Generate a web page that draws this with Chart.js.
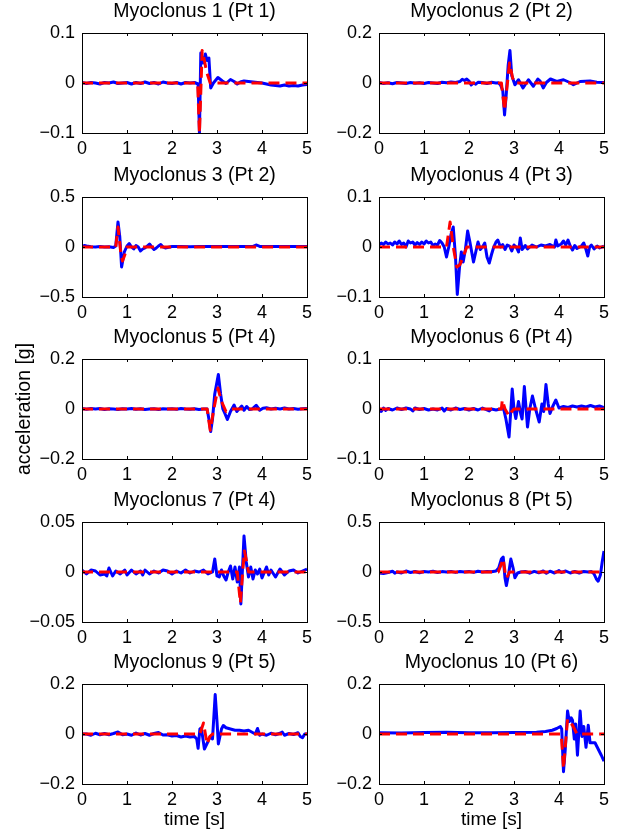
<!DOCTYPE html>
<html>
<head>
<meta charset="utf-8">
<script src="https://cdn.jsdelivr.net/npm/chart.js@4.4.1/dist/chart.umd.min.js"></script>
<style>
  body { margin: 0; background: #fff; }
  #fig { position: relative; width: 621px; height: 836px; overflow: hidden; }
  #fig canvas { position: absolute; }
</style>
</head>
<body>
<div id="fig"></div>
<script>
// ---- data (time in s, acceleration in g) ----
const titles = ['Myoclonus 1 (Pt 1)', 'Myoclonus 2 (Pt 2)', 'Myoclonus 3 (Pt 2)', 'Myoclonus 4 (Pt 3)',
  'Myoclonus 5 (Pt 4)', 'Myoclonus 6 (Pt 4)', 'Myoclonus 7 (Pt 4)', 'Myoclonus 8 (Pt 5)',
  'Myoclonus 9 (Pt 5)', 'Myoclonus 10 (Pt 6)'];

const xTicks = [0, 1, 2, 3, 4, 5];
const xTickText = ['0', '1', '2', '3', '4', '5'];
const xTickText8 = ['0', '2', '2', '3', '4', '5'];

const yTicks01 = [-0.1, 0, 0.1];
const yText01 = ['\u22120.1', '0', '0.1'];
const yTicks02 = [-0.2, 0, 0.2];
const yText02 = ['\u22120.2', '0', '0.2'];
const yTicks05 = [-0.5, 0, 0.5];
const yText05 = ['\u22120.5', '0', '0.5'];
const yTicks005 = [-0.05, 0, 0.05];
const yText005 = ['\u22120.05', '0', '0.05'];

// panel 1
const t1 = [0,0.1,0.2,0.3,0.4,0.5,0.6,0.7,0.8,0.9,1.0,1.1,1.2,1.3,1.4,1.5,1.6,1.7,1.8,1.9,2.0,2.1,2.2,2.3,2.4,2.5,2.58,2.61,2.64,2.69,2.74,2.78,2.82,2.86,2.92,3.02,3.12,3.2,3.3,3.38,3.45,3.52,3.6,3.7,3.8,3.9,4.0,4.1,4.2,4.3,4.4,4.5,4.6,4.7,4.8,4.9,5.0];
const blue1 = [0.001,-0.001,0.001,0,-0.002,0.001,0,0.002,-0.001,0,0.001,-0.002,0.001,-0.001,0.002,-0.001,0.001,-0.002,0.002,0,-0.001,0.001,-0.002,0.001,0,0.001,-0.002,-0.1,0.06,0.04,0.058,0.045,0.05,-0.01,0.0,0.011,0.004,-0.001,0.007,0.003,-0.002,0.002,0.004,0.003,0.002,0.001,0,-0.002,-0.004,-0.005,-0.006,-0.004,-0.006,-0.005,-0.006,-0.004,-0.003];
const rt1 = [0,2.57,2.61,2.67,2.72,2.77,2.85,5];
const red1 = [0,0,-0.1,0.065,0.045,0.022,0,0];

// panel 2
const t2 = [0,0.1,0.2,0.3,0.4,0.5,0.6,0.7,0.8,0.9,1.0,1.1,1.2,1.3,1.4,1.5,1.6,1.7,1.8,1.85,1.9,1.95,2.0,2.05,2.1,2.15,2.2,2.3,2.4,2.5,2.6,2.65,2.7,2.75,2.79,2.83,2.87,2.91,2.95,3.02,3.1,3.2,3.32,3.43,3.53,3.58,3.65,3.72,3.81,3.95,4.1,4.24,4.32,4.47,4.69,4.84,5.0];
const blue2 = [0.002,-0.002,0.001,-0.003,0.002,0,-0.002,0.002,-0.001,0.001,-0.002,0.002,0,-0.002,0.003,0.001,0.004,0.002,0.006,0.015,0.01,0.016,0.008,-0.008,0,-0.005,0.003,0.002,-0.002,0.003,0,0.001,-0.008,-0.03,-0.128,-0.04,0.07,0.13,0.03,-0.007,0.013,-0.02,0.013,-0.013,0.016,0.008,-0.02,0.002,0.016,0.006,0.013,0.002,-0.007,0.006,0.008,0.003,0.002];
const rt2 = [0,2.72,2.79,2.9,2.97,3.02,5];
const red2 = [0,0,-0.11,0.08,0.02,0,0];

// panel 3
const t3 = [0,0.05,0.1,0.2,0.3,0.4,0.5,0.6,0.7,0.75,0.8,0.84,0.88,0.94,1.0,1.05,1.1,1.15,1.2,1.25,1.3,1.35,1.4,1.45,1.5,1.55,1.6,1.65,1.7,1.75,1.8,1.85,1.9,2.0,2.2,2.4,2.6,2.8,3.0,3.2,3.4,3.6,3.8,3.88,3.95,4.2,4.5,4.8,5.0];
const blue3 = [0.005,0.015,0.01,0.003,0,0.005,0,0.003,-0.005,0.01,0.25,0.1,-0.2,-0.05,0.01,0.035,0,-0.02,0.015,0,-0.04,-0.02,-0.01,0.01,0.03,0,-0.025,-0.01,0.01,0.025,0,-0.01,-0.005,0.005,0.005,0.003,0.005,0.004,0.005,0.004,0.006,0.005,0.006,0.02,0.006,0.005,0.006,0.005,0.005];
const rt3 = [0,0.75,0.8,0.86,0.9,0.95,1.0,5];
const red3 = [0,0,0.2,-0.05,-0.14,-0.08,0,0];

// panel 4
const t4 = [0,0.05,0.1,0.15,0.2,0.25,0.3,0.35,0.4,0.45,0.5,0.55,0.6,0.65,0.7,0.75,0.8,0.85,0.9,0.95,1.0,1.05,1.1,1.15,1.2,1.25,1.3,1.35,1.4,1.45,1.5,1.55,1.6,1.65,1.7,1.74,1.79,1.83,1.87,1.92,1.97,2.02,2.06,2.1,2.15,2.2,2.25,2.3,2.35,2.4,2.45,2.5,2.55,2.6,2.64,2.7,2.75,2.8,2.85,2.9,2.95,3.0,3.05,3.1,3.14,3.18,3.25,3.3,3.4,3.5,3.6,3.7,3.8,3.9,3.93,3.97,4.05,4.1,4.15,4.2,4.25,4.3,4.35,4.4,4.5,4.55,4.6,4.64,4.68,4.72,4.78,4.85,4.9,5.0];
const blue4 = [0.004,0.008,0.005,0.01,0.006,0.008,0.004,0.01,0.006,0.012,0.005,0.008,0,0.012,0.008,0.01,0.004,0.009,0.005,0.01,0.006,0.012,0.008,0.01,0.003,0.006,0.004,0.013,0.008,0,-0.02,0,0.025,0.04,-0.02,-0.095,-0.04,-0.01,-0.03,-0.005,0.032,0.01,-0.01,-0.03,-0.01,0.01,-0.005,0,0.008,-0.02,-0.032,-0.015,0,0.01,0.014,0,0.005,-0.005,0.004,0.002,-0.008,0.004,0,-0.01,0.018,-0.005,0.003,-0.004,0.004,0,0.004,0.002,0.005,0,0.014,0.002,0.006,0.012,0.004,0.014,0.002,-0.006,0.003,-0.003,0.002,0.008,-0.005,-0.018,0,0.004,-0.004,0.002,-0.002,0.002];
const rt4 = [0,1.5,1.58,1.65,1.73,1.8,1.87,1.95,5];
const red4 = [0,0,0.05,0,-0.04,-0.035,-0.02,0,0];

// panel 5
const t5 = [0,0.1,0.2,0.3,0.4,0.5,0.6,0.7,0.8,0.9,1.0,1.1,1.2,1.3,1.4,1.5,1.6,1.7,1.8,1.9,2.0,2.1,2.2,2.3,2.4,2.5,2.6,2.7,2.78,2.82,2.86,2.9,2.95,3.03,3.08,3.13,3.18,3.23,3.3,3.38,3.44,3.5,3.55,3.6,3.66,3.72,3.78,3.87,3.95,4.02,4.1,4.2,4.3,4.4,4.5,4.6,4.7,4.8,4.9,5.0];
const blue5 = [0.002,-0.001,0.002,0,0.002,-0.002,0.001,0,-0.002,0.001,0,0.002,-0.001,0.001,-0.002,0,0.001,-0.002,0.001,0,0.001,-0.001,0.002,0,-0.001,0.001,-0.002,0,0,-0.04,-0.09,-0.04,0.06,0.138,0.06,0,-0.02,-0.042,-0.01,0.016,-0.01,0.002,0.012,-0.005,0.01,-0.002,0,0.015,-0.005,0.003,0.005,0,0.003,0,0.004,0,0.002,-0.001,0.001,0.002];
const rt5 = [0,2.78,2.85,2.93,3.02,3.1,3.2,3.3,5];
const red5 = [0,0,-0.085,0,0.084,0.03,-0.01,0,0];

// panel 6
const t6 = [0,0.05,0.1,0.15,0.2,0.3,0.4,0.5,0.6,0.7,0.75,0.8,0.9,1.0,1.1,1.2,1.3,1.4,1.45,1.5,1.6,1.7,1.8,1.9,2.0,2.1,2.2,2.3,2.4,2.45,2.5,2.6,2.7,2.77,2.82,2.89,2.96,3.0,3.04,3.1,3.15,3.18,3.23,3.3,3.35,3.41,3.48,3.56,3.62,3.66,3.71,3.76,3.8,3.86,3.93,4.0,4.1,4.2,4.3,4.4,4.5,4.6,4.7,4.8,4.9,5.0];
const blue6 = [0,-0.005,0.002,-0.003,0.001,-0.002,0.002,-0.001,0.002,0,-0.004,0.002,-0.001,0.001,-0.002,0,-0.002,0.002,-0.004,0.001,-0.002,0.002,-0.001,0.001,-0.002,0.001,-0.002,0.002,-0.002,-0.004,0,-0.002,0,0,-0.02,-0.056,0.04,0,-0.019,0.015,-0.01,-0.02,0.045,-0.036,0,0.026,0,-0.026,0.01,-0.005,0.049,0.01,-0.009,0.005,0.018,0.002,0.005,0.003,0.006,0.004,0.006,0.004,0.007,0.004,0.006,0.003];
const rt6 = [0,2.72,2.74,2.8,2.89,2.95,3.0,5];
const red6 = [0,0,0.018,0,-0.014,-0.005,0,0];

// panel 7
const t7 = [0,0.1,0.2,0.3,0.4,0.5,0.55,0.6,0.68,0.75,0.85,0.95,1.0,1.1,1.2,1.3,1.35,1.4,1.5,1.6,1.7,1.8,1.9,2.0,2.1,2.2,2.3,2.4,2.5,2.6,2.7,2.8,2.9,2.95,3.0,3.05,3.1,3.15,3.2,3.25,3.3,3.35,3.4,3.45,3.5,3.53,3.6,3.65,3.7,3.75,3.8,3.85,3.9,3.95,4.0,4.1,4.15,4.2,4.3,4.4,4.5,4.6,4.7,4.8,4.9,5.0];
const blue7 = [0.002,-0.002,0.002,0.001,-0.003,-0.002,-0.004,0.004,-0.004,0.001,-0.002,0.002,-0.003,0.002,-0.002,0.001,-0.003,0.002,-0.002,0.001,-0.001,0.002,0.001,-0.002,0.001,-0.001,0.002,-0.001,0.001,0,0.002,-0.002,0,0.013,-0.004,-0.005,0.002,-0.004,-0.008,0,0.006,-0.007,0.005,-0.01,0.005,-0.032,0.036,0.01,-0.005,0.005,-0.007,0.002,-0.002,0.003,-0.006,0.005,-0.003,0.002,-0.005,0.003,-0.003,0.001,0.002,-0.001,0.001,0.003];
const rt7 = [0,3.45,3.52,3.57,3.61,3.66,3.7,5];
const red7 = [0,0,-0.031,0,0.021,0.01,0,0];

// panel 8
const t8 = [0,0.1,0.2,0.3,0.35,0.4,0.5,0.6,0.7,0.8,0.9,1.0,1.1,1.2,1.3,1.4,1.5,1.6,1.7,1.8,1.9,2.0,2.1,2.2,2.3,2.4,2.5,2.6,2.66,2.72,2.76,2.8,2.83,2.88,2.93,2.98,3.02,3.08,3.15,3.25,3.35,3.45,3.55,3.65,3.72,3.8,3.9,4.0,4.05,4.15,4.25,4.35,4.45,4.55,4.65,4.72,4.78,4.83,4.87,4.92,4.96,5.0];
const blue8 = [-0.01,-0.015,-0.005,0.008,-0.012,0,-0.01,0.01,-0.005,0.005,-0.008,0.005,0,0.008,-0.005,0.004,0,0.006,-0.004,0.005,0,0.006,-0.004,0.008,0,0.006,0.002,0.01,0.04,0.13,0.15,-0.06,-0.136,-0.02,0.13,0.04,-0.058,-0.01,0,0.005,-0.012,0.006,-0.008,0.01,-0.012,0.008,-0.01,0.015,-0.005,0.01,-0.01,0.005,-0.01,0.006,0,0.004,-0.02,-0.07,-0.092,-0.03,0.1,0.21];
const rt8 = [0,2.65,2.76,2.82,2.86,2.9,5];
const red8 = [0,0,0.13,-0.058,-0.04,0,0];

// panel 9
const t9 = [0,0.1,0.2,0.3,0.4,0.5,0.6,0.7,0.8,0.9,1.0,1.1,1.2,1.3,1.4,1.5,1.6,1.7,1.8,1.9,2.0,2.1,2.2,2.3,2.4,2.5,2.55,2.58,2.62,2.65,2.68,2.72,2.8,2.85,2.9,2.96,3.0,3.03,3.1,3.14,3.2,3.3,3.4,3.5,3.6,3.7,3.8,3.85,3.9,3.95,4.0,4.1,4.2,4.3,4.4,4.45,4.5,4.6,4.7,4.8,4.85,4.9,4.95,5.0];
const blue9 = [0,0,-0.005,0.003,-0.003,0.002,-0.003,0.002,0.008,-0.003,0,-0.005,0.004,-0.004,0.002,-0.005,0.002,0.006,-0.004,-0.003,-0.008,-0.006,-0.012,-0.008,-0.012,-0.01,-0.02,-0.057,0.02,0.024,-0.01,-0.06,-0.03,-0.01,-0.02,0.158,0.05,-0.04,0.02,0.034,0.025,0.02,0.015,0.015,0.012,0.015,0.005,0,0.022,-0.005,0,-0.005,0.003,-0.003,0.003,0.008,-0.005,0.002,-0.002,0.005,-0.01,-0.015,0,0];
const rt9 = [0,2.62,2.7,2.78,2.84,2.9,5];
const red9 = [0,0,0.044,-0.04,-0.01,0,0];

// panel 10
const t10 = [0,0.5,1.0,1.5,2.0,2.5,3.0,3.5,3.7,3.85,3.95,4.03,4.06,4.1,4.14,4.19,4.23,4.27,4.3,4.34,4.37,4.41,4.47,4.51,4.55,4.6,4.65,4.69,4.72,4.8,4.87,4.94,5.0];
const blue10 = [0.005,0.004,0.006,0.007,0.005,0.005,0.006,0.007,0.01,0.015,0.022,0.03,0.02,-0.151,-0.06,0.092,0.05,0.065,0.055,-0.02,0.04,-0.085,0.092,-0.01,0.03,-0.053,0.035,-0.035,-0.035,-0.035,-0.06,-0.085,-0.109];
const rt10 = [0,4.05,4.1,4.19,4.3,4.4,5];
const red10 = [0,0,-0.138,0.059,0.035,0,0];

const panels = [
  { time: t1, blue: blue1, redTime: rt1, red: red1, yTicks: yTicks01, yText: yText01, xText: xTickText },
  { time: t2, blue: blue2, redTime: rt2, red: red2, yTicks: yTicks02, yText: yText02, xText: xTickText },
  { time: t3, blue: blue3, redTime: rt3, red: red3, yTicks: yTicks05, yText: yText05, xText: xTickText },
  { time: t4, blue: blue4, redTime: rt4, red: red4, yTicks: yTicks01, yText: yText01, xText: xTickText },
  { time: t5, blue: blue5, redTime: rt5, red: red5, yTicks: yTicks02, yText: yText02, xText: xTickText },
  { time: t6, blue: blue6, redTime: rt6, red: red6, yTicks: yTicks01, yText: yText01, xText: xTickText },
  { time: t7, blue: blue7, redTime: rt7, red: red7, yTicks: yTicks005, yText: yText005, xText: xTickText },
  { time: t8, blue: blue8, redTime: rt8, red: red8, yTicks: yTicks05, yText: yText05, xText: xTickText8 },
  { time: t9, blue: blue9, redTime: rt9, red: red9, yTicks: yTicks02, yText: yText02, xText: xTickText },
  { time: t10, blue: blue10, redTime: rt10, red: red10, yTicks: yTicks02, yText: yText02, xText: xTickText }
];

// ---- layout ----
const FONT = '"Liberation Sans", Arial, Helvetica, sans-serif';
const plotLeft = [82, 379];
const canvasLeft = [0, 310];
const rowTop = [33, 197, 359, 522, 684];
const plotW = 225, plotH = 100, titleSpace = 32;

function pts(xs, ys) {
  return xs.map((x, i) => ({ x: x, y: ys[i] }));
}

// box, inward ticks and panel title
const framePlugin = {
  id: 'frame',
  afterDatasetsDraw(chart) {
    const { ctx, chartArea: a, scales } = chart;
    ctx.save();
    ctx.strokeStyle = '#000';
    ctx.lineWidth = 1;
    ctx.strokeRect(Math.round(a.left) + 0.5, Math.round(a.top) + 0.5,
      Math.round(a.right - a.left), Math.round(a.bottom - a.top));
    ctx.beginPath();
    scales.x.ticks.forEach(t => {
      const px = Math.round(scales.x.getPixelForValue(t.value)) + 0.5;
      ctx.moveTo(px, a.bottom); ctx.lineTo(px, a.bottom - 3);
      ctx.moveTo(px, a.top); ctx.lineTo(px, a.top + 3);
    });
    scales.y.ticks.forEach(t => {
      const py = Math.round(scales.y.getPixelForValue(t.value)) + 0.5;
      ctx.moveTo(a.left, py); ctx.lineTo(a.left + 3, py);
      ctx.moveTo(a.right, py); ctx.lineTo(a.right - 3, py);
    });
    ctx.stroke();
    ctx.fillStyle = '#000';
    ctx.font = '19.5px ' + FONT;
    ctx.textAlign = 'center';
    ctx.textBaseline = 'alphabetic';
    ctx.fillText(chart.options.plugins.frame.title, (a.left + a.right) / 2, a.top - 16);
    ctx.restore();
  }
};

const fig = document.getElementById('fig');

panels.forEach((p, i) => {
  const row = Math.floor(i / 2), col = i % 2;
  const yw = plotLeft[col] - canvasLeft[col];
  const xh = row === 4 ? 52 : 28;
  const cv = document.createElement('canvas');
  cv.width = yw + plotW + 12;
  cv.height = titleSpace + plotH + xh;
  cv.style.left = canvasLeft[col] + 'px';
  cv.style.top = (rowTop[row] - titleSpace) + 'px';
  fig.appendChild(cv);

  new Chart(cv.getContext('2d'), {
    type: 'line',
    data: {
      datasets: [
        {
          data: pts(p.redTime, p.red),
          borderColor: '#ff0000',
          borderWidth: 3,
          borderDash: [11, 6],
          borderJoinStyle: 'round',
          pointRadius: 0,
          tension: 0
        },
        {
          data: pts(p.time, p.blue),
          borderColor: '#0000ff',
          borderWidth: 3,
          borderJoinStyle: 'round',
          pointRadius: 0,
          tension: 0
        }
      ]
    },
    options: {
      responsive: false,
      animation: false,
      devicePixelRatio: 1,
      layout: { padding: { top: titleSpace, right: 12, left: 0, bottom: 0 } },
      plugins: {
        legend: { display: false },
        tooltip: { enabled: false },
        frame: { title: titles[i] }
      },
      scales: {
        x: {
          type: 'linear',
          min: 0, max: 5,
          afterBuildTicks: s => { s.ticks = xTicks.map(v => ({ value: v })); },
          afterFit: s => { s.height = xh; },
          grid: { display: false, drawTicks: false },
          border: { display: false },
          ticks: {
            autoSkip: false, maxRotation: 0, padding: 5, color: '#000',
            font: { family: FONT, size: 18, lineHeight: 1.2 },
            callback: (v, idx) => p.xText[idx]
          },
          title: {
            display: row === 4, text: 'time [s]', color: '#000',
            font: { family: FONT, size: 19, lineHeight: 1.2 },
            padding: { top: 0, bottom: 5 }
          }
        },
        y: {
          type: 'linear',
          min: p.yTicks[0], max: p.yTicks[2],
          afterBuildTicks: s => { s.ticks = p.yTicks.map(v => ({ value: v })); },
          afterFit: s => { s.width = yw; },
          grid: { display: false, drawTicks: false },
          border: { display: false },
          ticks: {
            padding: 7, color: '#000',
            font: { family: FONT, size: 18, lineHeight: 1.2 },
            callback: (v, idx) => p.yText[idx]
          },
          title: {
            display: i === 4, text: 'acceleration [g]', color: '#000',
            font: { family: FONT, size: 19.5, lineHeight: 1.2 },
            padding: { top: 13, bottom: 0 }
          }
        }
      }
    },
    plugins: [framePlugin]
  });
});
</script>
</body>
</html>
